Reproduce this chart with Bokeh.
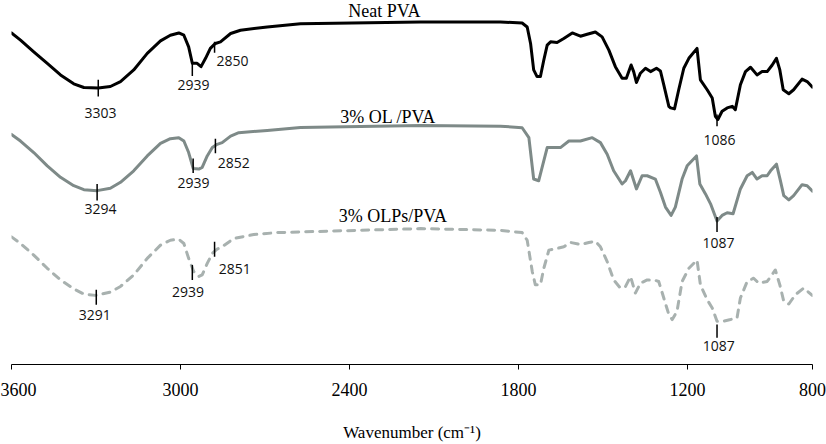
from bokeh.plotting import figure
from bokeh.models import Range1d, FixedTicker
from bokeh.core.properties import value
from bokeh.embed import file_html
from bokeh.resources import INLINE

# ---- data (wavenumber in cm-1 along the drawn axis, transmittance in arbitrary offset units) ----
wn_neat = [3600, 3568, 3521, 3473, 3426, 3379, 3343, 3292, 3249, 3213, 3166, 3118, 3071, 3036, 3006,
           2988, 2971, 2958, 2941, 2927, 2911, 2894, 2876, 2858, 2822, 2787, 2692, 2574, 2148, 1864,
           1787, 1769, 1757, 1746, 1734, 1722, 1710, 1698, 1686, 1663, 1639, 1609, 1580, 1556, 1527,
           1503, 1479, 1456, 1432, 1417, 1400, 1391, 1381, 1367, 1349, 1331, 1310, 1296, 1284, 1266,
           1260, 1246, 1231, 1213, 1195, 1166, 1154, 1130, 1112, 1101, 1092, 1077, 1059, 1041, 1030,
           1012, 994, 976, 953, 935, 917, 899, 884, 872, 860, 840, 823, 793, 775, 756]
t_neat = [334.3, 327.0, 315.3, 303.7, 292.0, 283.0, 279.3, 278.7, 280.3, 285.3, 297.0, 313.7, 326.3,
          332.0, 334.3, 332.0, 320.3, 303.7, 303.7, 300.3, 308.7, 318.7, 323.7, 325.3, 333.7, 337.0,
          340.3, 343.5, 345.3, 345.3, 344.3, 340.3, 323.7, 297.0, 290.3, 290.3, 307.0, 322.0, 325.3,
          324.7, 328.7, 334.3, 331.0, 333.0, 335.3, 330.3, 317.0, 300.3, 288.7, 288.7, 302.0, 295.3,
          284.3, 293.7, 298.7, 295.3, 298.7, 296.0, 282.0, 260.3, 258.7, 257.7, 277.0, 298.7, 308.7,
          318.7, 287.0, 277.0, 268.7, 250.3, 247.0, 255.3, 258.7, 260.3, 257.0, 282.0, 295.3, 299.7,
          292.0, 295.3, 295.3, 302.0, 308.7, 297.0, 277.0, 273.0, 277.0, 287.7, 285.3, 279.7]

wn_ol = [3600, 3568, 3521, 3473, 3426, 3379, 3343, 3296, 3249, 3213, 3166, 3118, 3071, 3036, 3006,
         2988, 2971, 2955, 2935, 2923, 2905, 2887, 2870, 2852, 2822, 2793, 2692, 2574, 2148, 1864,
         1787, 1763, 1746, 1728, 1716, 1698, 1675, 1651, 1621, 1580, 1538, 1509, 1485, 1462, 1432,
         1420, 1402, 1381, 1361, 1343, 1314, 1296, 1278, 1258, 1243, 1219, 1201, 1168, 1156, 1136,
         1118, 1095, 1077, 1059, 1038, 1012, 988, 970, 953, 935, 917, 905, 884, 870, 858, 840, 823,
         793, 775, 756]
t_ol = [232.0, 225.3, 213.7, 200.3, 188.7, 180.3, 176.3, 175.3, 177.7, 183.7, 195.3, 210.3, 223.0,
        227.7, 228.7, 225.3, 213.7, 197.7, 197.0, 198.7, 210.3, 218.7, 222.0, 223.7, 230.3, 233.7,
        236.0, 239.0, 241.0, 240.3, 238.7, 228.7, 187.0, 185.3, 198.7, 218.7, 218.7, 218.7, 225.3,
        225.3, 228.7, 223.7, 212.0, 195.3, 182.0, 185.3, 195.3, 177.0, 190.3, 190.3, 187.0, 173.7,
        158.7, 150.3, 158.7, 187.0, 200.3, 210.3, 182.0, 172.0, 162.0, 144.7, 150.3, 153.0, 152.0,
        177.0, 190.3, 193.7, 187.0, 190.3, 190.3, 195.3, 202.0, 185.3, 170.3, 166.0, 170.3, 181.3,
        180.3, 174.7]

wn_olp = [3600, 3568, 3521, 3473, 3426, 3379, 3343, 3302, 3249, 3213, 3166, 3118, 3071, 3036, 3006,
          2988, 2971, 2953, 2935, 2923, 2905, 2887, 2870, 2852, 2811, 2740, 2657, 2148, 1864, 1787,
          1769, 1751, 1740, 1722, 1710, 1692, 1663, 1639, 1615, 1580, 1550, 1527, 1509, 1485, 1462,
          1438, 1420, 1402, 1385, 1367, 1343, 1320, 1302, 1284, 1266, 1254, 1237, 1219, 1195, 1166,
          1154, 1130, 1112, 1095, 1071, 1047, 1024, 1012, 988, 965, 947, 917, 888, 872, 858, 840,
          817, 787, 757]
t_olp = [128.7, 122.0, 110.3, 97.0, 85.3, 76.3, 71.0, 69.7, 73.0, 78.7, 90.3, 107.0, 120.3, 125.3,
         126.3, 122.0, 107.0, 93.7, 88.7, 90.3, 102.0, 112.0, 116.3, 118.7, 127.0, 131.0, 133.0,
         137.0, 135.3, 133.0, 125.3, 93.7, 80.3, 80.3, 97.0, 115.3, 117.0, 118.7, 123.0, 121.0, 123.0,
         124.3, 118.7, 103.7, 85.3, 77.0, 78.7, 88.7, 72.0, 82.0, 85.3, 85.3, 83.7, 67.0, 50.3, 45.3,
         53.7, 83.7, 97.0, 105.3, 80.3, 65.3, 57.0, 43.7, 43.7, 45.3, 47.0, 67.0, 83.7, 87.0, 82.0,
         83.7, 95.3, 80.3, 63.7, 61.0, 70.3, 77.0, 69.7]

# peak markers: position on axis, marker bottom/top, label text and label position
peak_x = [3292, 2958, 2879, 1095, 3296, 2955, 2876, 1095, 3299, 2958, 2879, 1095]
peak_lo = [270.3, 291.0, 314.3, 240.3, 165.3, 193.0, 213.0, 133.7, 60.3, 85.3, 108.7, 27.0]
peak_hi = [287.0, 305.3, 325.3, 252.0, 182.0, 207.7, 227.7, 148.7, 75.3, 100.3, 123.7, 40.3]
peak_text = ["3303", "2939", "2850", "1086", "3294", "2939", "2852", "1087", "3291", "2939", "2851", "1087"]
label_x = [3284, 2954, 2815, 1086, 3284, 2954, 2811, 1090, 3304, 2973, 2807, 1089]
label_y = [253.7, 282.0, 306.0, 226.3, 156.3, 182.7, 203.0, 122.0, 49.7, 72.7, 96.3, 18.7]

series_names = ["Neat PVA", "3% OL /PVA", "3% OLPs/PVA"]
name_x = [2276, 2263, 2246]
name_y = [356.5, 249.5, 149.5]

x_ticks = [3600, 3000, 2400, 1800, 1200, 756]
x_tick_labels = ["3600", "3000", "2400", "1800", "1200", "800"]

# ---- figure ----
p = figure(width=826, height=444, output_backend="svg", toolbar_location=None,
           x_range=Range1d(3600, 756), y_range=Range1d(0, 367),
           y_axis_location=None,
           min_border_left=11, min_border_right=14, min_border_top=0, min_border_bottom=77)
p.grid.visible = False
p.outline_line_color = None
p.background_fill_color = "white"
p.border_fill_color = "white"

p.line(wn_neat, t_neat, line_color="#000000", line_width=3, line_join="round", line_cap="round")
p.line(wn_ol, t_ol, line_color="#7E8A88", line_width=3, line_join="round", line_cap="round")
p.line(wn_olp, t_olp, line_color="#A8B1AF", line_width=3, line_join="round", line_cap="round",
       line_dash="7 7")

p.segment(x0=peak_x, y0=peak_lo, x1=peak_x, y1=peak_hi, line_color="#000000", line_width=1.5)
p.text(x=label_x, y=label_y, text=peak_text, text_font=value("Open Sans"), text_font_size="14px",
       text_align="center", text_baseline="middle", text_color="#111111")
p.text(x=name_x, y=name_y, text=series_names, text_font=value("Liberation Serif"),
       text_font_size="18px", text_align="center", text_baseline="alphabetic", text_color="#000000")

ax = p.xaxis[0]
ax.ticker = FixedTicker(ticks=x_ticks)
ax.major_label_overrides = dict(zip(x_ticks, x_tick_labels))
ax.minor_tick_line_color = None
ax.major_tick_in = 0
ax.major_tick_out = 5
ax.axis_line_color = "#000000"
ax.major_tick_line_color = "#000000"
ax.major_label_text_font = "Liberation Serif"
ax.major_label_text_font_size = "18px"
ax.major_label_text_color = "#000000"
ax.major_label_standoff = 13
ax.axis_label = "Wavenumber (cm\u207b\u00b9)"
ax.axis_label_text_font = "Liberation Serif"
ax.axis_label_text_font_size = "17px"
ax.axis_label_text_font_style = "normal"
ax.axis_label_text_color = "#000000"
ax.axis_label_standoff = 24

open("out.html", "w").write(file_html(p, INLINE))
